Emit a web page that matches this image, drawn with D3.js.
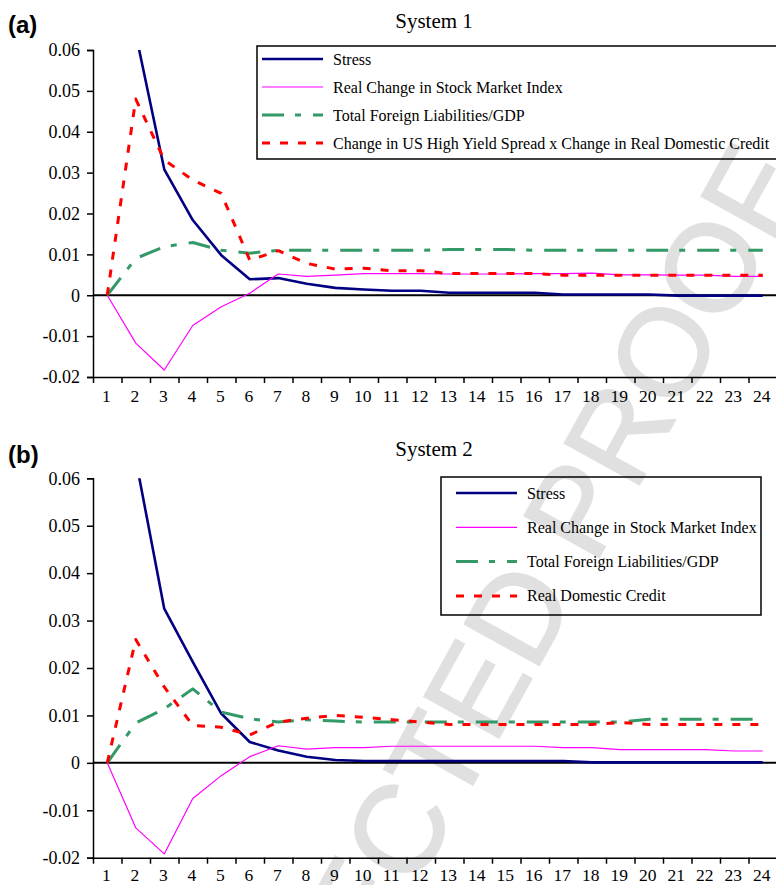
<!DOCTYPE html>
<html>
<head>
<meta charset="utf-8">
<script src="https://cdn.jsdelivr.net/npm/d3@7"></script>
<style>
  body { margin: 0; background: #fff; }
  svg { display: block; }
</style>
</head>
<body>
<div id="canva"></div>
<script>
// periods on the x axis
const periods = ["1","2","3","4","5","6","7","8","9","10","11","12","13","14","15","16","17","18","19","20","21","22","23","24"];
const yTicks = [0.06, 0.05, 0.04, 0.03, 0.02, 0.01, 0, -0.01, -0.02];

// System 1
const stress1 = [0.105, 0.064, 0.0308, 0.0184, 0.0098, 0.0039, 0.0042, 0.0028, 0.0018, 0.0014, 0.0011, 0.0011, 0.0006, 0.0006, 0.0006, 0.0006, 0.0002, 0.0002, 0.0002, 0.0002, -0.0001, -0.0001, -0.0001, -0.0001];
const stock1 = [0, -0.0117, -0.0183, -0.0074, -0.0028, 0.0005, 0.0052, 0.0046, 0.0049, 0.0053, 0.0053, 0.0053, 0.0052, 0.0052, 0.0052, 0.0053, 0.0053, 0.0054, 0.005, 0.005, 0.0049, 0.0049, 0.0046, 0.0046];
const foreign1 = [0, 0.009, 0.0119, 0.0129, 0.011, 0.0103, 0.011, 0.011, 0.011, 0.011, 0.011, 0.011, 0.0112, 0.0112, 0.0112, 0.011, 0.011, 0.011, 0.011, 0.011, 0.011, 0.011, 0.011, 0.011];
const credit1 = [0, 0.048, 0.0331, 0.0282, 0.0249, 0.0086, 0.0109, 0.0078, 0.0064, 0.0066, 0.006, 0.006, 0.0053, 0.0053, 0.0053, 0.0053, 0.0049, 0.0049, 0.0049, 0.0049, 0.0049, 0.0049, 0.0049, 0.0049];

// System 2
const stress2 = [0.105, 0.064, 0.0325, 0.0213, 0.0104, 0.0044, 0.0026, 0.0013, 0.0006, 0.0004, 0.0004, 0.0004, 0.0004, 0.0004, 0.0004, 0.0004, 0.0004, 0.0001, 0.0001, 0.0001, 0.0001, 0.0001, 0.0001, 0.0001];
const stock2 = [0, -0.0137, -0.0192, -0.0075, -0.0027, 0.0013, 0.0036, 0.0029, 0.0032, 0.0032, 0.0035, 0.0035, 0.0035, 0.0035, 0.0035, 0.0035, 0.0032, 0.0032, 0.0028, 0.0028, 0.0028, 0.0028, 0.0025, 0.0025];
const foreign2 = [0, 0.0084, 0.0114, 0.0156, 0.0107, 0.0093, 0.0086, 0.0091, 0.0088, 0.0086, 0.0086, 0.0086, 0.0086, 0.0086, 0.0086, 0.0086, 0.0086, 0.0086, 0.0086, 0.0092, 0.0092, 0.0092, 0.0092, 0.0092];
const credit2 = [0, 0.026, 0.016, 0.0079, 0.0075, 0.0059, 0.0086, 0.0094, 0.01, 0.0096, 0.0091, 0.0086, 0.0081, 0.0081, 0.0081, 0.0081, 0.0081, 0.0081, 0.0085, 0.0081, 0.0081, 0.0081, 0.0081, 0.0081];

const names1 = ["Stress", "Real Change in Stock Market Index", "Total Foreign Liabilities/GDP", "Change in US High Yield Spread x Change in Real Domestic Credit"];
const names2 = ["Stress", "Real Change in Stock Market Index", "Total Foreign Liabilities/GDP", "Real Domestic Credit"];

const styles = [
    { color: '#000080', width: 2.6, dash: null },
    { color: '#ff00ff', width: 1.2, dash: null },
    { color: '#339966', width: 3, dash: '22,11,6,12' },
    { color: '#ff0000', width: 3, dash: '8,10' }
];

const serif = '"Liberation Serif", "Times New Roman", serif';

const svg = d3.select('#canva').append('svg')
    .attr('width', 776)
    .attr('height', 885);

// proof watermark, behind the charts
svg.append('text')
    .attr('transform', 'translate(420,788) rotate(-61)')
    .attr('text-anchor', 'middle')
    .attr('dy', '0.36em')
    .attr('font-family', '"Liberation Sans", Arial, sans-serif')
    .attr('font-size', 124)
    .attr('fill', '#e0e0e0')
    .attr('stroke', '#e0e0e0')
    .attr('stroke-width', 2)
    .text('UNCORRECTED PROOF');

function drawPanel(cfg) {
    const g = svg.append('g');

    const x = d3.scaleLinear().domain([0.5, 24.5]).range([93, 777]);
    const y = d3.scaleLinear().domain([-0.02, 0.06]).range([cfg.bottom, cfg.top]);

    g.append('text')
        .attr('x', 8).attr('y', cfg.labelY)
        .attr('font-family', '"Liberation Sans", Arial, sans-serif')
        .attr('font-weight', 'bold')
        .attr('font-size', 24)
        .text(cfg.label);

    g.append('text')
        .attr('x', 434).attr('y', cfg.titleY)
        .attr('text-anchor', 'middle')
        .attr('font-family', serif)
        .attr('font-size', 21)
        .text(cfg.title);

    // y axis
    const yAxis = g.append('g')
        .attr('transform', 'translate(93,0)')
        .call(d3.axisLeft(y)
            .tickValues(yTicks)
            .tickSize(6)
            .tickPadding(7)
            .tickFormat(d => d === 0 ? '0' : d3.format('.2f')(d).replace('−', '-')));
    yAxis.select('.domain').attr('stroke', '#000').attr('stroke-width', 1.5);
    yAxis.selectAll('line').attr('stroke', '#000').attr('stroke-width', 1.5);
    yAxis.selectAll('text')
        .attr('font-family', serif)
        .attr('font-size', 18)
        .attr('fill', '#000');

    // x axis: ticks between categories, labels centred
    const xAxis = g.append('g')
        .attr('transform', `translate(0,${cfg.bottom})`)
        .call(d3.axisBottom(x)
            .tickValues(d3.range(0.5, 25, 1))
            .tickSize(6)
            .tickSizeOuter(0)
            .tickFormat(''));
    xAxis.select('.domain').attr('stroke', '#000').attr('stroke-width', 1.5);
    xAxis.selectAll('line').attr('stroke', '#000').attr('stroke-width', 1.5);

    g.selectAll('.xlab')
        .data(periods)
        .enter()
        .append('text')
        .attr('class', 'xlab')
        .attr('x', (d, i) => x(i + 1) - 1)
        .attr('y', cfg.bottom + cfg.labelGap)
        .attr('text-anchor', 'middle')
        .attr('font-family', serif)
        .attr('font-size', 17.5)
        .text(d => d);

    // zero line
    g.append('line')
        .attr('x1', x(0.5)).attr('x2', x(24.5))
        .attr('y1', y(0)).attr('y2', y(0))
        .attr('stroke', '#000')
        .attr('stroke-width', 2);

    const clipId = 'clip-' + cfg.label.replace(/\W/g, '');
    g.append('clipPath').attr('id', clipId)
        .append('rect')
        .attr('x', x(0.5)).attr('y', y(0.06))
        .attr('width', x(24.5) - x(0.5))
        .attr('height', y(-0.02) - y(0.06));

    const line = d3.line()
        .x((d, i) => x(i + 1))
        .y(d => y(d));

    cfg.series.forEach((s, k) => {
        g.append('path')
            .datum(s)
            .attr('clip-path', `url(#${clipId})`)
            .attr('fill', 'none')
            .attr('stroke', styles[k].color)
            .attr('stroke-width', styles[k].width)
            .attr('stroke-dasharray', styles[k].dash)
            .attr('stroke-linejoin', 'round')
            .attr('d', line);
    });

    // legend
    const lg = cfg.legend;
    g.append('rect')
        .attr('x', lg.x).attr('y', lg.y)
        .attr('width', lg.w).attr('height', lg.h)
        .attr('fill', 'none')
        .attr('stroke', '#000')
        .attr('stroke-width', 1.5);

    cfg.names.forEach((name, k) => {
        const ry = lg.rowY + k * lg.rowGap;
        g.append('line')
            .attr('x1', lg.lineX).attr('x2', lg.lineX + 61)
            .attr('y1', ry).attr('y2', ry)
            .attr('stroke', styles[k].color)
            .attr('stroke-width', styles[k].width)
            .attr('stroke-dasharray', styles[k].dash);
        g.append('text')
            .attr('x', lg.lineX + 71)
            .attr('y', ry + 5.5)
            .attr('font-family', serif)
            .attr('font-size', 16)
            .text(name);
    });
}

drawPanel({
    label: '(a)', labelY: 33, title: 'System 1', titleY: 28,
    top: 50, bottom: 377, labelGap: 25,
    series: [stress1, stock1, foreign1, credit1],
    names: names1,
    legend: { x: 257, y: 46, w: 530, h: 113, lineX: 262, rowY: 59, rowGap: 28 }
});

drawPanel({
    label: '(b)', labelY: 463, title: 'System 2', titleY: 456,
    top: 478.3, bottom: 857.7, labelGap: 23.3,
    series: [stress2, stock2, foreign2, credit2],
    names: names2,
    legend: { x: 441, y: 477, w: 320, h: 138, lineX: 456, rowY: 493, rowGap: 34.3 }
});
</script>
</body>
</html>
